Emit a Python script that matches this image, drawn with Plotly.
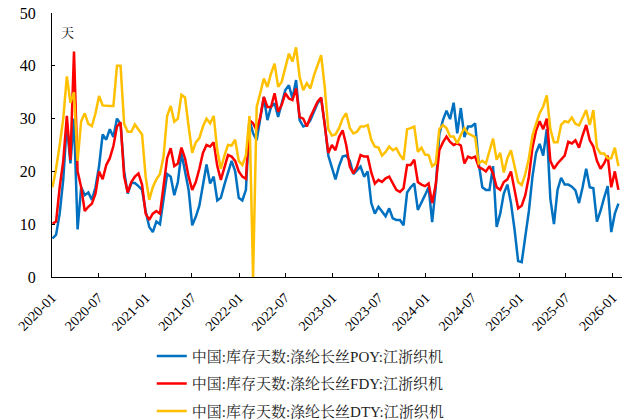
import pandas as pd
import plotly.graph_objects as go

dates = pd.date_range("2020-01-03", periods=159, freq="14D")

poy = [
    7.3, 8, 12, 18.5, 29, 21.5, 30, 9, 17, 15.5,
    16, 14.6, 17, 21, 27, 26, 28, 26.5, 30, 29,
    20, 15.8, 17.8, 17.8, 17.2, 16.5, 12.5, 9.5, 8.5, 10.5,
    10, 14.5, 19.5, 19, 15.5, 18, 23.5, 20, 16.5, 9.8,
    11.4, 13.5, 17.5, 21.3, 17.7, 19, 14.5, 15, 17.5, 20,
    22, 20, 15, 14.5, 16.5, 29.7, 27.2, 25.9, 29.7, 34.1,
    29.7, 32.2, 32.9, 30.3, 32.9, 35.4, 36.3, 33.8, 37.3, 29.7,
    28.5, 28.8, 29.7, 31.3, 32.9, 33.8, 29, 23, 20.8, 18.5,
    21, 22.8, 23, 22, 19.5, 20.3, 20.9, 19, 20, 14,
    12, 13.3, 12.5, 11.5, 13, 11.1, 10.8, 10.8, 9.8, 16,
    17, 17.7, 12.7, 14, 15.5, 17, 10.4, 17, 27, 29.7,
    31.5, 29.9, 33, 27.2, 32, 26.5, 28.5, 28.5, 29.1, 21.5,
    17, 16.5, 16.5, 21, 9.5, 12, 15.8, 17.5, 14, 9,
    3, 2.8, 8, 12.5, 19, 23.5, 25.2, 23, 28, 14.8,
    10, 16.5, 18.8, 17.5, 17.5, 17.1, 16.4, 14, 17, 20.5,
    17, 16.8, 10.5, 12.5, 15, 17.2, 8.5, 12, 13.9,
]

fdy = [
    10.1, 10.5, 17, 22, 30.5, 22.2, 42.7, 20, 17, 12.5,
    13.3, 13.9, 15.8, 20, 18.5, 21.2, 22.5, 24.8, 28.5, 29.3,
    19, 16, 18, 19, 19.6, 17.5, 12, 10.8, 12, 12.5,
    12, 17, 22.5, 24.4, 21, 21.5, 24.5, 22.5, 19, 16.5,
    18, 20.5, 23.5, 25, 24.7, 25.5, 21, 18.4, 21, 23.1,
    22.8, 22, 20, 19, 18.6, 29.7, 29.1, 27.8, 30.3, 34.1,
    32.2, 32.2, 34.8, 31.3, 32.6, 34.8, 33.8, 33.5, 35.7, 30.3,
    30, 28.5, 30.3, 31.9, 33.2, 34, 29, 23.5, 25, 24,
    26.5, 27.8, 25, 20.9, 19.6, 20.9, 23.1, 22.8, 22.8, 19.8,
    17.7, 18.4, 18, 18.7, 19, 17.7, 16.5, 16.1, 16.8, 21.2,
    21.2, 22.2, 18, 17.5, 17.2, 17.7, 14, 17.5, 24, 25.5,
    26.6, 25.6, 25, 25.3, 24.9, 21.5, 22.8, 22.5, 22.8, 20.8,
    20.5, 20, 21, 19.6, 17, 16.5, 18, 18.5, 20, 16.5,
    13, 13.5, 15.5, 19, 24.5, 27.7, 29.5, 28, 30, 22,
    20.5, 21.5, 22.3, 23, 25.6, 25.3, 25.9, 24.5, 26.8, 28.8,
    25.9, 24.7, 22, 20.5, 21.5, 23, 17, 20, 16.5,
]

dty = [
    17, 20.5, 25, 30, 38, 33, 35, 22, 29.5, 31,
    29, 28.6, 31, 34.3, 32.5, 32.4, 32.4, 32.4, 40, 40,
    29, 27.5, 27.5, 28.9, 28, 27, 19, 14.6, 17, 18.5,
    19.5, 22.8, 30.5, 32.4, 29.4, 30, 34.5, 34, 28.5, 23.5,
    25.5, 26.3, 28.5, 30, 29.1, 30.5, 24, 20.5, 23, 25,
    24.9, 26, 22, 21.2, 23, 30.5, 0, 32.2, 34.8, 37.6,
    36, 38.5, 40.4, 36, 37, 39.8, 42.3, 40.8, 43.5, 37.9,
    35.4, 36.7, 35.7, 38.2, 40.1, 42, 36, 28, 26.8, 27,
    28.2, 30, 31, 28.2, 27.2, 27.5, 28.5, 28.5, 28.8, 26,
    24.7, 24.5, 23, 23.7, 24.7, 24, 24.4, 23.1, 22.2, 28,
    28.2, 28.5, 23.7, 24.5, 23.2, 23.1, 21, 21.5, 28, 28.8,
    28.2, 26.6, 26.6, 25.3, 26.9, 28.2, 27.2, 26.9, 26.5, 21.5,
    22, 21.5, 24, 26.2, 22.2, 23.5, 19.8, 22.5, 24, 21,
    18, 17.4, 19.5, 22.5, 26.8, 29, 31, 32.3, 34.4, 28,
    25.5, 25.5, 28.8, 29.5, 29.3, 30.2, 29, 28.7, 30, 31.6,
    28.8, 31.6, 24.5, 23.4, 23.4, 22.5, 22.5, 24.5, 21,
]

names = [
    "中国:库存天数:涤纶长丝POY:江浙织机",
    "中国:库存天数:涤纶长丝FDY:江浙织机",
    "中国:库存天数:涤纶长丝DTY:江浙织机",
]
colors = ["#0070C0", "#FF0000", "#FFC000"]
series = [poy, fdy, dty]

FONT = '"Liberation Serif", "Noto Serif CJK SC", "Noto Sans CJK SC", serif'

fig = go.Figure()
for k, (nm, col, vals) in enumerate(zip(names, colors, series)):
    fig.add_trace(go.Scatter(
        x=dates, y=vals, mode="lines", name=nm,
        line=dict(color=col, width=2.5),
        legendgroup=f"g{k}",
    ))

fig.update_layout(
    width=630, height=420,
    margin=dict(l=52, r=8, t=13, b=143, autoexpand=False),
    paper_bgcolor="white", plot_bgcolor="white",
    font=dict(family=FONT, size=14, color="black"),
    showlegend=True,
    legend=dict(
        orientation="v", x=0.175, xanchor="left", y=-0.238, yanchor="top",
        font=dict(family=FONT, size=15, color="#222"),
        tracegroupgap=5, traceorder="grouped",
        itemwidth=30, bgcolor="rgba(0,0,0,0)",
    ),
    annotations=[dict(
        text="天", x=0.028, y=0.928, xref="paper", yref="paper",
        xanchor="center", yanchor="middle",
        showarrow=False, font=dict(family=FONT, size=13, color="black"),
    )],
)

fig.update_xaxes(
    range=["2020-01-01", "2026-02-06"],
    tick0="2020-01-01", dtick="M6", tickformat="%Y-%m",
    tickangle=-45, ticks="inside", ticklen=4, tickcolor="black",
    showline=True, linecolor="black", linewidth=1,
    showgrid=False, zeroline=False, automargin=False,
    ticklabelstandoff=6,
    tickfont=dict(family=FONT, size=14, color="black"),
)
fig.update_yaxes(
    range=[0, 50], dtick=10,
    ticks="inside", ticklen=3, tickcolor="black",
    showline=True, linecolor="black", linewidth=1,
    showgrid=False, zeroline=False, automargin=False,
    ticklabelstandoff=12,
    tickfont=dict(family=FONT, size=16, color="black"),
)

fig.write_html(
    "out.html",
    config={"displayModeBar": False},
    post_script="document.body.style.margin='0';",
)
